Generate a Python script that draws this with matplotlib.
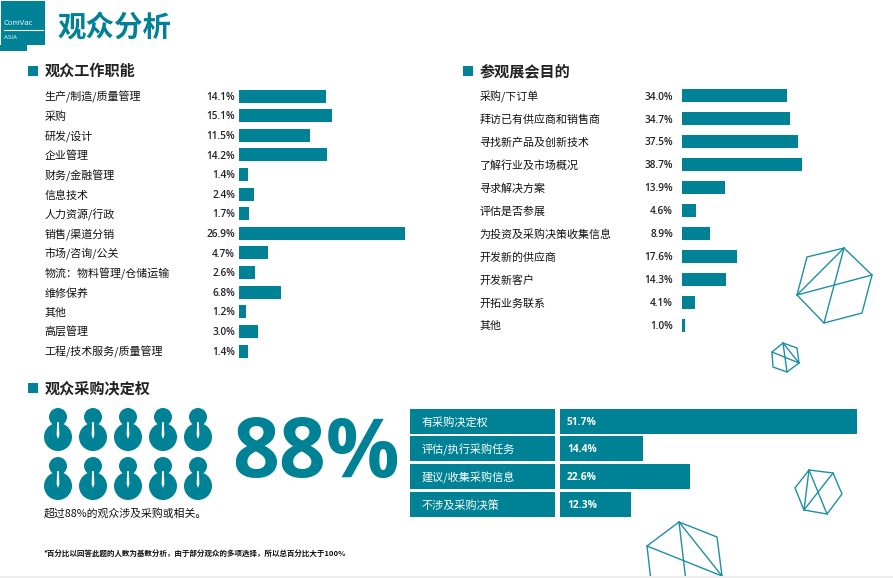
import matplotlib
matplotlib.use("Agg")
import matplotlib.pyplot as plt
from matplotlib.patches import Circle, Polygon, Rectangle
from matplotlib.transforms import blended_transform_factory

plt.rcParams['font.family'] = ['Noto Sans CJK SC', 'DejaVu Sans']

W, H = 893, 578
TEAL = "#008296"
NUM_FONT = ["Open Sans", "DejaVu Sans"]

job_labels = ["生产/制造/质量管理", "采购", "研发/设计", "企业管理", "财务/金融管理", "信息技术",
              "人力资源/行政", "销售/渠道分销", "市场/咨询/公关", "物流：物料管理/仓储运输",
              "维修保养", "其他", "高层管理", "工程/技术服务/质量管理"]
job_values = [14.1, 15.1, 11.5, 14.2, 1.4, 2.4, 1.7, 26.9, 4.7, 2.6, 6.8, 1.2, 3.0, 1.4]

goal_labels = ["采购/下订单", "拜访已有供应商和销售商", "寻找新产品及创新技术", "了解行业及市场概况",
               "寻求解决方案", "评估是否参展", "为投资及采购决策收集信息", "开发新的供应商",
               "开发新客户", "开拓业务联系", "其他"]
goal_values = [34.0, 34.7, 37.5, 38.7, 13.9, 4.6, 8.9, 17.6, 14.3, 4.1, 1.0]

power_labels = ["有采购决定权", "评估/执行采购任务", "建议/收集采购信息", "不涉及采购决策"]
power_values = [51.7, 14.4, 22.6, 12.3]

fig = plt.figure(figsize=(W / 100, H / 100), dpi=100)
page = fig.add_axes([0, 0, 1, 1])
page.set_xlim(0, W)
page.set_ylim(H, 0)
page.axis("off")


def bar_panel(x0, x1, xmax, y_top, y_bot, values):
    # rows run from y_top to y_bot (centres), in page pixels
    n = len(values)
    step = (y_bot - y_top) / (n - 1)
    a = fig.add_axes([x0 / W, 1 - (y_bot + step / 2) / H, (x1 - x0) / W, (y_bot - y_top + step) / H])
    a.set_xlim(0, xmax)
    a.set_ylim(n - 0.5, -0.5)
    a.axis("off")
    a.patch.set_alpha(0)
    return a, list(range(n)), step


def heading(x, y, s):
    page.add_patch(Rectangle((x, y - 5), 10, 10, color=TEAL, lw=0))
    page.text(x + 16.5, y, s, fontsize=10.9, fontweight="bold", color="#222222", va="center", ha="left")


# logo + title
page.add_patch(Rectangle((1, 1), 44, 44, color=TEAL, lw=0))
page.add_patch(Rectangle((0, 45), 27, 6, color=TEAL, lw=0))
page.plot([4, 43], [30, 30], color="white", lw=0.8)
page.text(4, 23.5, "ComVac", fontsize=5.6, color="white", va="center", ha="left", family=NUM_FONT)
page.text(4, 37.5, "ASIA", fontsize=4.4, color="white", va="center", ha="left", family=NUM_FONT)
page.text(58, 27.5, "观众分析", fontsize=20.5, fontweight="bold", color=TEAL, va="center", ha="left")

# left panel
heading(28, 71, "观众工作职能")
ax1, rows, step = bar_panel(239, 424, 30, 96, 351, job_values)
ax1.barh(rows, job_values, height=13 / step, color=TEAL)
tr = blended_transform_factory(page.transData, ax1.transData)
for r, lab, v in zip(rows, job_labels, job_values):
    y_off = 1.2 / step
    ax1.text(44.5, r + y_off, lab, transform=tr, fontsize=7.9, color="#111111", va="center", ha="left")
    ax1.text(235, r + y_off, f"{v:.1f}%", transform=tr, fontsize=7.2, fontweight="semibold", color="#222222",
             va="center", ha="right", family=NUM_FONT)

# right panel
heading(463, 71, "参观展会目的")
ax2, rows, step = bar_panel(682, 806, 40, 96, 325, goal_values)
ax2.barh(rows, goal_values, height=13 / step, color=TEAL)
tr = blended_transform_factory(page.transData, ax2.transData)
for r, lab, v in zip(rows, goal_labels, goal_values):
    y_off = 1.2 / step
    ax2.text(479.5, r + y_off, lab, transform=tr, fontsize=7.9, color="#111111", va="center", ha="left")
    ax2.text(673, r + y_off, f"{v:.1f}%", transform=tr, fontsize=7.2, fontweight="semibold", color="#222222",
             va="center", ha="right", family=NUM_FONT)

# purchase power
heading(28, 388, "观众采购决定权")
ax3, rows, step = bar_panel(560, 859, 52, 421, 504, power_values)
ax3.barh(rows, power_values, height=25 / step, color=TEAL)
tr = blended_transform_factory(page.transData, ax3.transData)
for r, lab, v in zip(rows, power_labels, power_values):
    y_off = 1.2 / step
    page.add_patch(Rectangle((410, 421 + r * step - 12.5), 145, 25, color=TEAL, lw=0))
    ax3.text(422, r + y_off, lab, transform=tr, fontsize=8, color="white", va="center", ha="left")
    ax3.text(567, r + y_off, f"{v:.1f}%", transform=tr, fontsize=7.4, fontweight="bold", color="white",
             va="center", ha="left", family=NUM_FONT)

# people icons
for head_y in [417, 466]:
    for cx in [58, 93, 128, 163, 198]:
        page.add_patch(Circle((cx, head_y), 9, color=TEAL, lw=0))
        page.add_patch(Circle((cx, head_y + 20), 14, color=TEAL, lw=0))
        page.add_patch(Polygon([(cx - 0.8, head_y + 5), (cx + 0.8, head_y + 5), (cx + 1.4, head_y + 18),
                                (cx, head_y + 22), (cx - 1.4, head_y + 18)], color="white", lw=0))

page.text(232, 456, "88%", fontsize=59, fontweight="bold", color=TEAL, va="center", ha="left", family=NUM_FONT)
page.text(44, 513, "超过88%的观众涉及采购或相关。", fontsize=7.8, color="#111111", va="center", ha="left")
page.text(44, 553.5, "*百分比以回答此题的人数为基数分析，由于部分观众的多项选择，所以总百分比大于100%",
          fontsize=5.45, fontweight="bold", color="#111111", va="center", ha="left")

# hexagon decoration
hexagons = [
    ([(807, 257), (844, 248), (872, 275), (862, 313), (824, 323), (797, 295)],
     [((797, 295), (844, 248)), ((844, 248), (824, 323)), ((797, 295), (872, 275))]),
    ([(772, 352), (783, 343), (797, 348), (799, 363), (787, 372), (773, 367)],
     [((783, 343), (787, 372)), ((783, 343), (799, 363)), ((772, 352), (799, 363))]),
    ([(795, 488), (809, 470), (833, 473), (842, 494), (827, 514), (804, 510)],
     [((809, 470), (804, 510)), ((809, 470), (827, 514)), ((804, 510), (833, 473))]),
    ([(647, 546), (679, 522), (717, 537), (722, 576), (687, 590), (652, 590)],
     [((679, 522), (722, 576)), ((679, 522), (687, 590)), ((647, 546), (722, 576))]),
]
for pts, diags in hexagons:
    page.add_patch(Polygon(pts, closed=True, fill=False, edgecolor="#1f8fa3", lw=1))
    for p, q in diags:
        page.plot([p[0], q[0]], [p[1], q[1]], color="#1f8fa3", lw=1)

page.add_patch(Rectangle((0, 576), W, 2, color="#eeeeee", lw=0, zorder=5))

fig.savefig("out.png", dpi=100)
